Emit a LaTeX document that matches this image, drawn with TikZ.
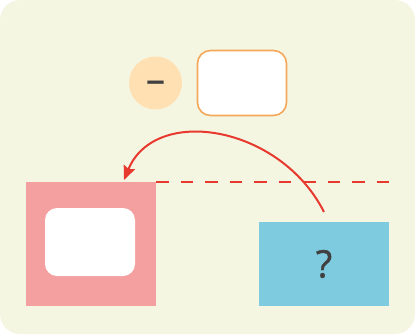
\documentclass[tikz,border=0pt]{standalone}
\usepackage{fontspec}
\setmainfont{Open Sans}
\newfontfamily\boldish[FakeBold=1]{Open Sans}
\usetikzlibrary{arrows.meta}
\definecolor{bgc}{HTML}{F4F6E2}
\definecolor{circc}{HTML}{FFE0B3}
\definecolor{orangec}{HTML}{F4A85A}
\definecolor{pinkc}{HTML}{F4A0A1}
\definecolor{bluec}{HTML}{7ECBDF}
\definecolor{redc}{HTML}{E8392F}
\definecolor{textc}{HTML}{404040}
\tikzset{
  box/.style={draw=none, inner sep=0pt, outer sep=0pt},
  bigtext/.style={font=\boldish\fontsize{38}{42}\selectfont, text=textc},
  redline/.style={draw=redc, line width=2pt},
}
\begin{document}
\begin{tikzpicture}[x=1pt,y=-1pt]
\useasboundingbox (0,0) rectangle (420,335);
\fill[bgc, rounded corners=20pt] (0,0) rectangle (415,334);
% minus circle
\node[box, circle, fill=circc, minimum size=53pt] (circ) at (155.5,83) {};
\node[bigtext, inner sep=0pt] (minus) at (155.5,86.7) {–};
% orange rounded box
\node[box, draw=orangec, line width=1.6pt, fill=white, rounded corners=13pt,
      minimum width=89pt, minimum height=65pt] (obox) at (242,83) {};
% pink square
\node[box, fill=pinkc, minimum width=130pt, minimum height=124pt] (pink) at (91,244) {};
\node[box, fill=white, rounded corners=12pt, minimum width=90pt, minimum height=68pt] (inner) at (90,242) {};
% blue box
\node[box, fill=bluec, minimum width=130pt, minimum height=84pt] (blue) at (324,264) {};
\node[bigtext, inner sep=0pt] (q) at (blue.center) {?};
% dashed line
\coordinate (dend) at (390,182);
\draw[redline, dash pattern=on 12.5pt off 12pt] (pink.north east) -- (dend);
% arrow
\coordinate (astart) at ([yshift=10pt]blue.north);
\coordinate (aend) at ([xshift=-32pt,yshift=2pt]pink.north east);
\draw[redline, -{Stealth[length=14pt,width=12pt,inset=2pt]}]
  (astart) .. controls (280,125) and (155,105) .. (aend);
\end{tikzpicture}
\end{document}
